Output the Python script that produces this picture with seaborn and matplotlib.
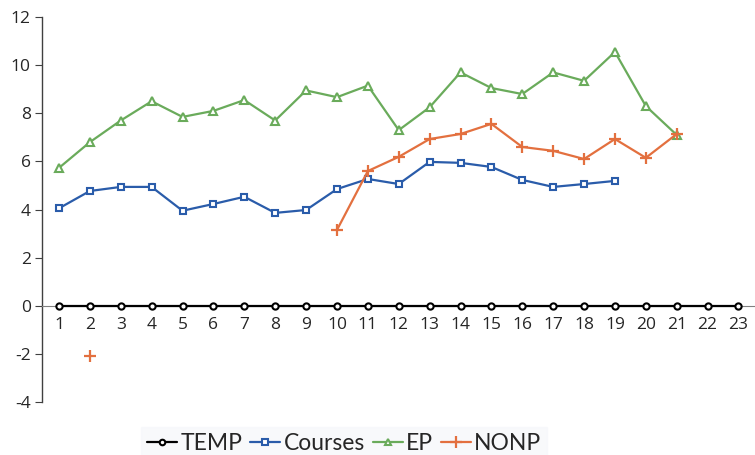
import numpy as np
import pandas as pd
import seaborn as sns
import matplotlib.pyplot as plt
from matplotlib.lines import Line2D

sns.set_style("white")
plt.rcParams["font.family"] = ["Open Sans", "DejaVu Sans"]

periods = list(range(1, 24))
temp = [0.0] * 23
courses = [4.05, 4.77, 4.94, 4.94, 3.95, 4.23, 4.53, 3.86, 3.98, 4.85,
           5.27, 5.06, 5.98, 5.94, 5.77, 5.23, 4.94, 5.06, 5.19]
ep = [5.73, 6.8, 7.7, 8.5, 7.85, 8.1, 8.55, 7.7, 8.95, 8.67, 9.15,
      7.3, 8.25, 9.7, 9.05, 8.8, 9.7, 9.35, 10.55, 8.3, 7.1]
nonp_x = [2, 10, 11, 12, 13, 14, 15, 16, 17, 18, 19, 20, 21]
nonp = [-2.1, 3.15, 5.6, 6.19, 6.93, 7.14, 7.56, 6.6, 6.44, 6.1, 6.93, 6.15, 7.14]

BLUE = "#2A5CAA"
GREEN = "#6AAB5B"
ORANGE = "#E3703F"

fig = plt.figure(figsize=(7.55, 4.55), dpi=100)
ax = fig.add_axes([0.0556, 0.1165, 0.943, 0.846])

df_temp = pd.DataFrame({"x": periods, "y": temp})
df_courses = pd.DataFrame({"x": periods[:len(courses)], "y": courses})
df_ep = pd.DataFrame({"x": periods[:len(ep)], "y": ep})
df_nonp = pd.DataFrame({"x": nonp_x, "y": nonp})
# point 2 stands alone, points 3-9 are missing
df_nonp["seg"] = (df_nonp["x"].diff().fillna(1) > 1).cumsum()

sns.lineplot(data=df_ep, x="x", y="y", ax=ax, color=GREEN, lw=1.6,
             marker="^", markersize=5.5, markerfacecolor="white",
             markeredgecolor=GREEN, markeredgewidth=1.5, zorder=3)
sns.lineplot(data=df_courses, x="x", y="y", ax=ax, color=BLUE, lw=1.6,
             marker="s", markersize=5, markerfacecolor="white",
             markeredgecolor=BLUE, markeredgewidth=1.5, zorder=3)
for seg, part in df_nonp.groupby("seg"):
    sns.lineplot(data=part, x="x", y="y", ax=ax, color=ORANGE, lw=1.6,
                 marker="+", markersize=8.5, markeredgecolor=ORANGE,
                 markeredgewidth=1.6, zorder=4)
sns.lineplot(data=df_temp, x="x", y="y", ax=ax, color="black", lw=1.6,
             marker="o", markersize=4.5, markerfacecolor="white",
             markeredgecolor="black", markeredgewidth=1.5, zorder=5)

ax.set_xlim(0.45, 23.5)
ax.set_ylim(-4, 12)
ax.set_yticks(np.arange(-4, 13, 2))
ax.set_yticklabels([str(v) for v in range(-4, 13, 2)])
ax.set_xticks(periods)
ax.set_xticks(np.arange(1.5, 23.5, 1), minor=True)
ax.set_xlabel("")
ax.set_ylabel("")

for side in ["top", "right"]:
    ax.spines[side].set_visible(False)
ax.spines["bottom"].set_position(("data", 0))
ax.spines["bottom"].set_color("#808080")
ax.spines["left"].set_color("#404040")
ax.spines["left"].set_linewidth(1.0)

ax.tick_params(axis="x", which="major", length=0, pad=8,
               labelsize=12.5, labelcolor="#262626")
ax.tick_params(axis="x", which="minor", length=4, direction="out",
               color="#404040", width=1)
ax.tick_params(axis="y", length=5, direction="out", color="#404040",
               labelsize=12.5, labelcolor="#262626", left=True, pad=3)

handles = [
    Line2D([], [], color="black", lw=1.6, marker="o", markersize=4,
           markerfacecolor="white", markeredgewidth=1.5),
    Line2D([], [], color=BLUE, lw=1.6, marker="s", markersize=4,
           markerfacecolor="white", markeredgewidth=1.5),
    Line2D([], [], color=GREEN, lw=1.6, marker="^", markersize=4.5,
           markerfacecolor="white", markeredgewidth=1.5),
    Line2D([], [], color=ORANGE, lw=1.6, marker="+", markersize=8,
           markeredgewidth=1.6),
]
leg = fig.legend(handles, ["TEMP", "Courses", "EP", "NONP"], ncol=4,
                 loc="lower center", bbox_to_anchor=(0.456, -0.035),
                 frameon=True, handlelength=1.3,
                 handletextpad=0.15, columnspacing=0.35, borderpad=0.25,
                 fancybox=False,
                 prop={"family": ["Lato", "DejaVu Sans"], "size": 16.5})
leg.get_frame().set_facecolor("#F7F8FB")
leg.get_frame().set_edgecolor("#F7F8FB")

fig.savefig("out.png", dpi=100)
